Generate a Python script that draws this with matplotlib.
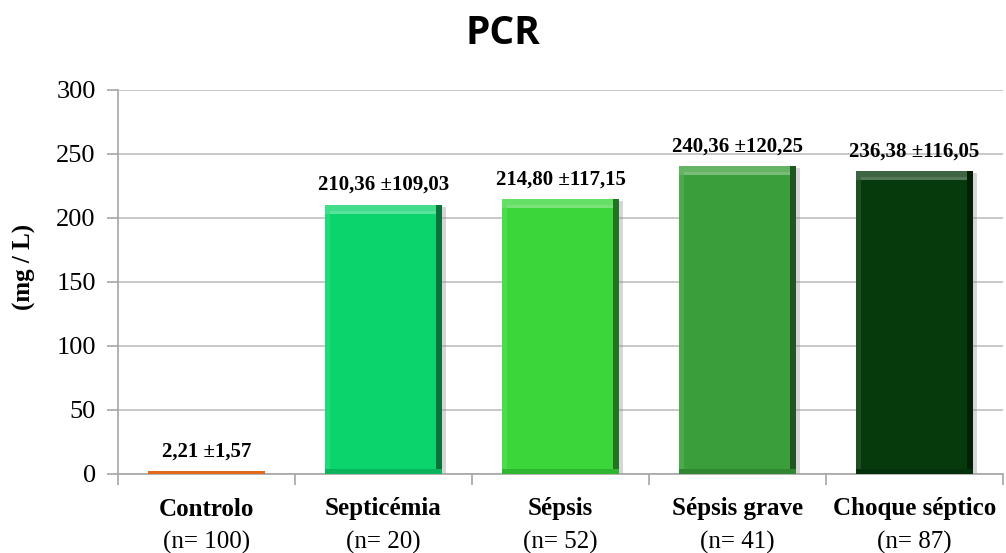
import numpy as np
import matplotlib.pyplot as plt
from matplotlib.colors import to_rgb
from matplotlib.transforms import blended_transform_factory

groups = ['Controlo', 'Septicémia', 'Sépsis', 'Sépsis grave', 'Choque séptico']
n_counts = [100, 20, 52, 41, 87]
means = [2.21, 210.36, 214.80, 240.36, 236.38]
sds = [1.57, 109.03, 117.15, 120.25, 116.05]
colors = ['#E2691E', '#0BD46C', '#3AD63A', '#3A9E3A', '#063A0C']

def shade(c, f):
    r = np.array(to_rgb(c))
    if f > 0:
        return tuple(r + (1 - r) * f)
    return tuple(r * (1 + f))

def fmt(v):
    return ('%.2f' % v).replace('.', ',')

serif = 'Liberation Serif'

fig = plt.figure(figsize=(10.06, 5.53), dpi=100)
ax = fig.add_axes([0.1173, 0.1429, 0.8797, 0.6944])

x = np.arange(len(groups))
w = 0.66

# shadow behind bars
ax.bar(x + 0.025, means, w, bottom=-1.5, color='#8C8C8C', alpha=0.35, zorder=2, linewidth=0)
ax.bar(x, means, w, color=colors, zorder=3, linewidth=0)

# bevel: light top band, light left edge, dark right edge, dark foot
bev = 7
for xi, v, c in zip(x, means, colors):
    if v < 10:
        continue
    ax.bar(xi, bev, w, bottom=v - bev, color=shade(c, 0.22), zorder=4, linewidth=0)
    ax.bar(xi, bev * 0.35, w - 0.06, bottom=v - bev, color=shade(c, 0.32), zorder=4, linewidth=0)
    ax.bar(xi - w / 2, v - bev, 0.03, align='edge', color=shade(c, 0.1), zorder=4, linewidth=0)
    ax.bar(xi + w / 2 - 0.035, v, 0.035, align='edge', color=shade(c, -0.45), zorder=4, linewidth=0)
    ax.bar(xi, bev * 0.6, w, bottom=0, color=shade(c, -0.15), zorder=4, linewidth=0)

for xi, v, s in zip(x, means, sds):
    ax.annotate(fmt(v) + ' \u00b1' + fmt(s), (xi, v), xytext=(0, 7), textcoords='offset points',
                ha='center', va='bottom', fontsize=15, fontweight='bold', family=serif)

ax.set_xlim(-0.5, len(groups) - 0.5)
ax.set_ylim(0, 300)
ax.set_yticks(np.arange(0, 301, 50))
ax.yaxis.grid(True, color='#BFBFBF', linewidth=1.2, zorder=0)
ax.set_axisbelow(True)
ax.set_xticks(np.arange(-0.5, len(groups), 1.0))
ax.set_xticklabels([])
ax.tick_params(axis='x', length=8, color='#A6A6A6', width=1.2)
ax.tick_params(axis='y', length=8, color='#A6A6A6', width=1.2, labelsize=19, pad=8)
for lab in ax.get_yticklabels():
    lab.set_family(serif)
for side in ['top', 'right']:
    ax.spines[side].set_visible(False)
for side in ['left', 'bottom']:
    ax.spines[side].set_color('#A6A6A6')
    ax.spines[side].set_linewidth(1.2)

tr = blended_transform_factory(ax.transData, fig.transFigure)
for xi, g, n in zip(x, groups, n_counts):
    ax.text(xi, 1 - 509 / 553, g, transform=tr, ha='center', va='center',
            fontsize=18, fontweight='bold', family=serif)
    ax.text(xi, 1 - 542 / 553, '(n= %d)' % n, transform=tr, ha='center', va='center',
            fontsize=18, family=serif)

fig.text(24 / 1006, 1 - 267 / 553, '(mg / L)', rotation=90, ha='center', va='center',
         fontsize=18, fontweight='bold', family=serif)
fig.text(0.5, 1 - 33 / 553, 'PCR', ha='center', va='center', fontsize=28,
         fontweight='bold', family='Open Sans')

fig.savefig('out.png', dpi=100)
